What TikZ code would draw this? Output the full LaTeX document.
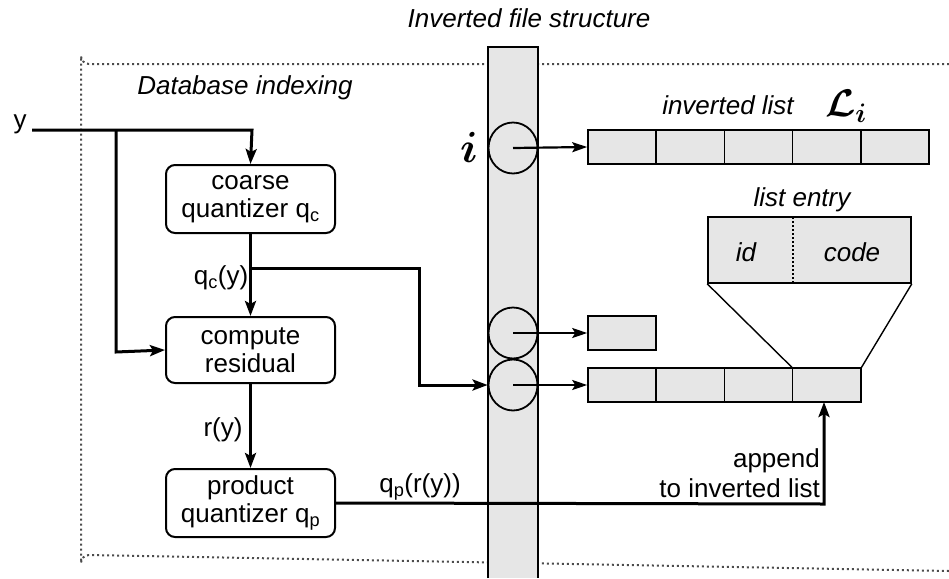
\documentclass[tikz,border=0pt]{standalone}
\usepackage{fontspec}
\setmainfont{Liberation Sans}
\usepackage{amsmath,bm}
\usetikzlibrary{arrows.meta,shapes.geometric}
\definecolor{gfill}{HTML}{E6E6E6}
\begin{document}
\begin{tikzpicture}[x=1pt,y=-1pt,
  txt/.style={font=\fontsize{26}{29}\selectfont, inner sep=0pt},
  itxt/.style={font=\fontsize{26}{29}\selectfont\itshape, inner sep=0pt},
  proc/.style={draw, line width=2pt, rounded corners=9pt, minimum width=169pt, minimum height=68pt, align=center, font=\fontsize{26}{28}\selectfont, inner sep=0pt},
  cell/.style={draw, fill=gfill, line width=1.6pt, minimum width=68.2pt, minimum height=34pt, inner sep=0pt},
  slot/.style={draw, fill=gfill, line width=1.8pt, ellipse, minimum width=49pt, minimum height=51pt, inner sep=0pt},
  conn/.style={line width=3pt, -{Stealth[length=15pt,width=11pt,inset=3pt]}},
  ptr/.style={line width=2.2pt, -{Stealth[length=15pt,width=10pt,inset=3pt]}},
  thinl/.style={line width=1.4pt}
]
\useasboundingbox (0,0) rectangle (949,578);
% database indexing frame
\draw[line width=2pt, dash pattern=on 2pt off 3pt, gray!60!black] (949,64) -- (89,64) arc[start angle=90,end angle=180,radius=8] -- (81,563) arc[start angle=180,end angle=270,radius=8] -- (949,571);
\node[itxt] (dbt) at (245,88) {Database indexing};
% inverted file column
\fill[gfill] (488,47) rectangle (538,578);
\draw[line width=1.8pt] (488,578) -- (488,47) -- (538,47) -- (538,578);
\node[itxt] (ift) at (529,18) {Inverted file structure};
% processing boxes
\node[proc] (coarse) at (250.5,199) {coarse\\quantizer q\textsubscript{c}};
\node[proc, minimum height=66pt] (resid) at (250.5,350) {compute\\residual};
\node[proc] (prod) at (250.5,503) {product\\quantizer q\textsubscript{p}};
% slots
\node[slot] (c1) at (513,148) {};
\node[slot] (c2) at (513,333) {};
\node[slot] (c3) at (513,385) {};
\node[font=\fontsize{24}{24}\selectfont, inner sep=0pt, scale=1.75] (ilab) at (469,147) {$\bm{i}$};
% top inverted list
\foreach \k in {1,...,5}{\node[cell] (t\k) at ({622.1+68.2*(\k-1)},147) {};}
% small list
\node[cell] (s1) at (622.1,333) {};
% bottom list
\foreach \k in {1,...,4}{\node[cell] (b\k) at ({622.1+68.2*(\k-1)},385) {};}
\node[itxt] (ilt) at (728,105) {inverted list};
\node[font=\fontsize{24}{24}\selectfont, inner sep=0pt, scale=1.55] (Li) at (846,106) {$\bm{\mathcal{L}_i}$};
% list entry
\node[itxt] (let) at (802,200) {list entry};
\node[cell, minimum width=203pt, minimum height=66pt] (entry) at (809.5,250) {};
\draw[line width=2pt, dotted] (793,217) -- (793,283);
\node[itxt] (idl) at (746,252) {id};
\node[itxt] (codel) at (852,252) {code};
\draw[thinl] (entry.south west) -- (b4.north west);
\draw[thinl] (entry.south east) -- (b4.north east);
% pointers
\draw[ptr] (c1.center) -- (t1.west);
\draw[ptr] (c2.center) -- (s1.west);
\draw[ptr] (c3.center) -- (b1.west);
% input y
\node[txt] (ylab) at (20,124) {y};
\coordinate (yin) at (32,130);
\draw[conn] (yin) -- (252,130) -- (coarse.north);
\draw[conn] (116,130) -- (116,352) -- (resid.west);
% coarse -> residual
\draw[conn] (coarse.south) -- (resid.north);
\node[txt] (qcy) at (221,278) {q\textsubscript{c}(y)};
\draw[conn] (252,268) -- (419,268) -- (419,385) -- (c3.west);
% residual -> product
\draw[conn] (resid.south) -- (prod.north);
\node[txt] (ry) at (223,430) {r(y)};
% product -> append
\draw[conn] (prod.east) -- (824,504) -- (824,402);
\node[txt] (qpr) at (420,487) {q\textsubscript{p}(r(y))};
\node[txt, anchor=east] (ap1) at (820,461) {append};
\node[txt, anchor=east] (ap2) at (820,488) {to inverted list};
\end{tikzpicture}
\end{document}
